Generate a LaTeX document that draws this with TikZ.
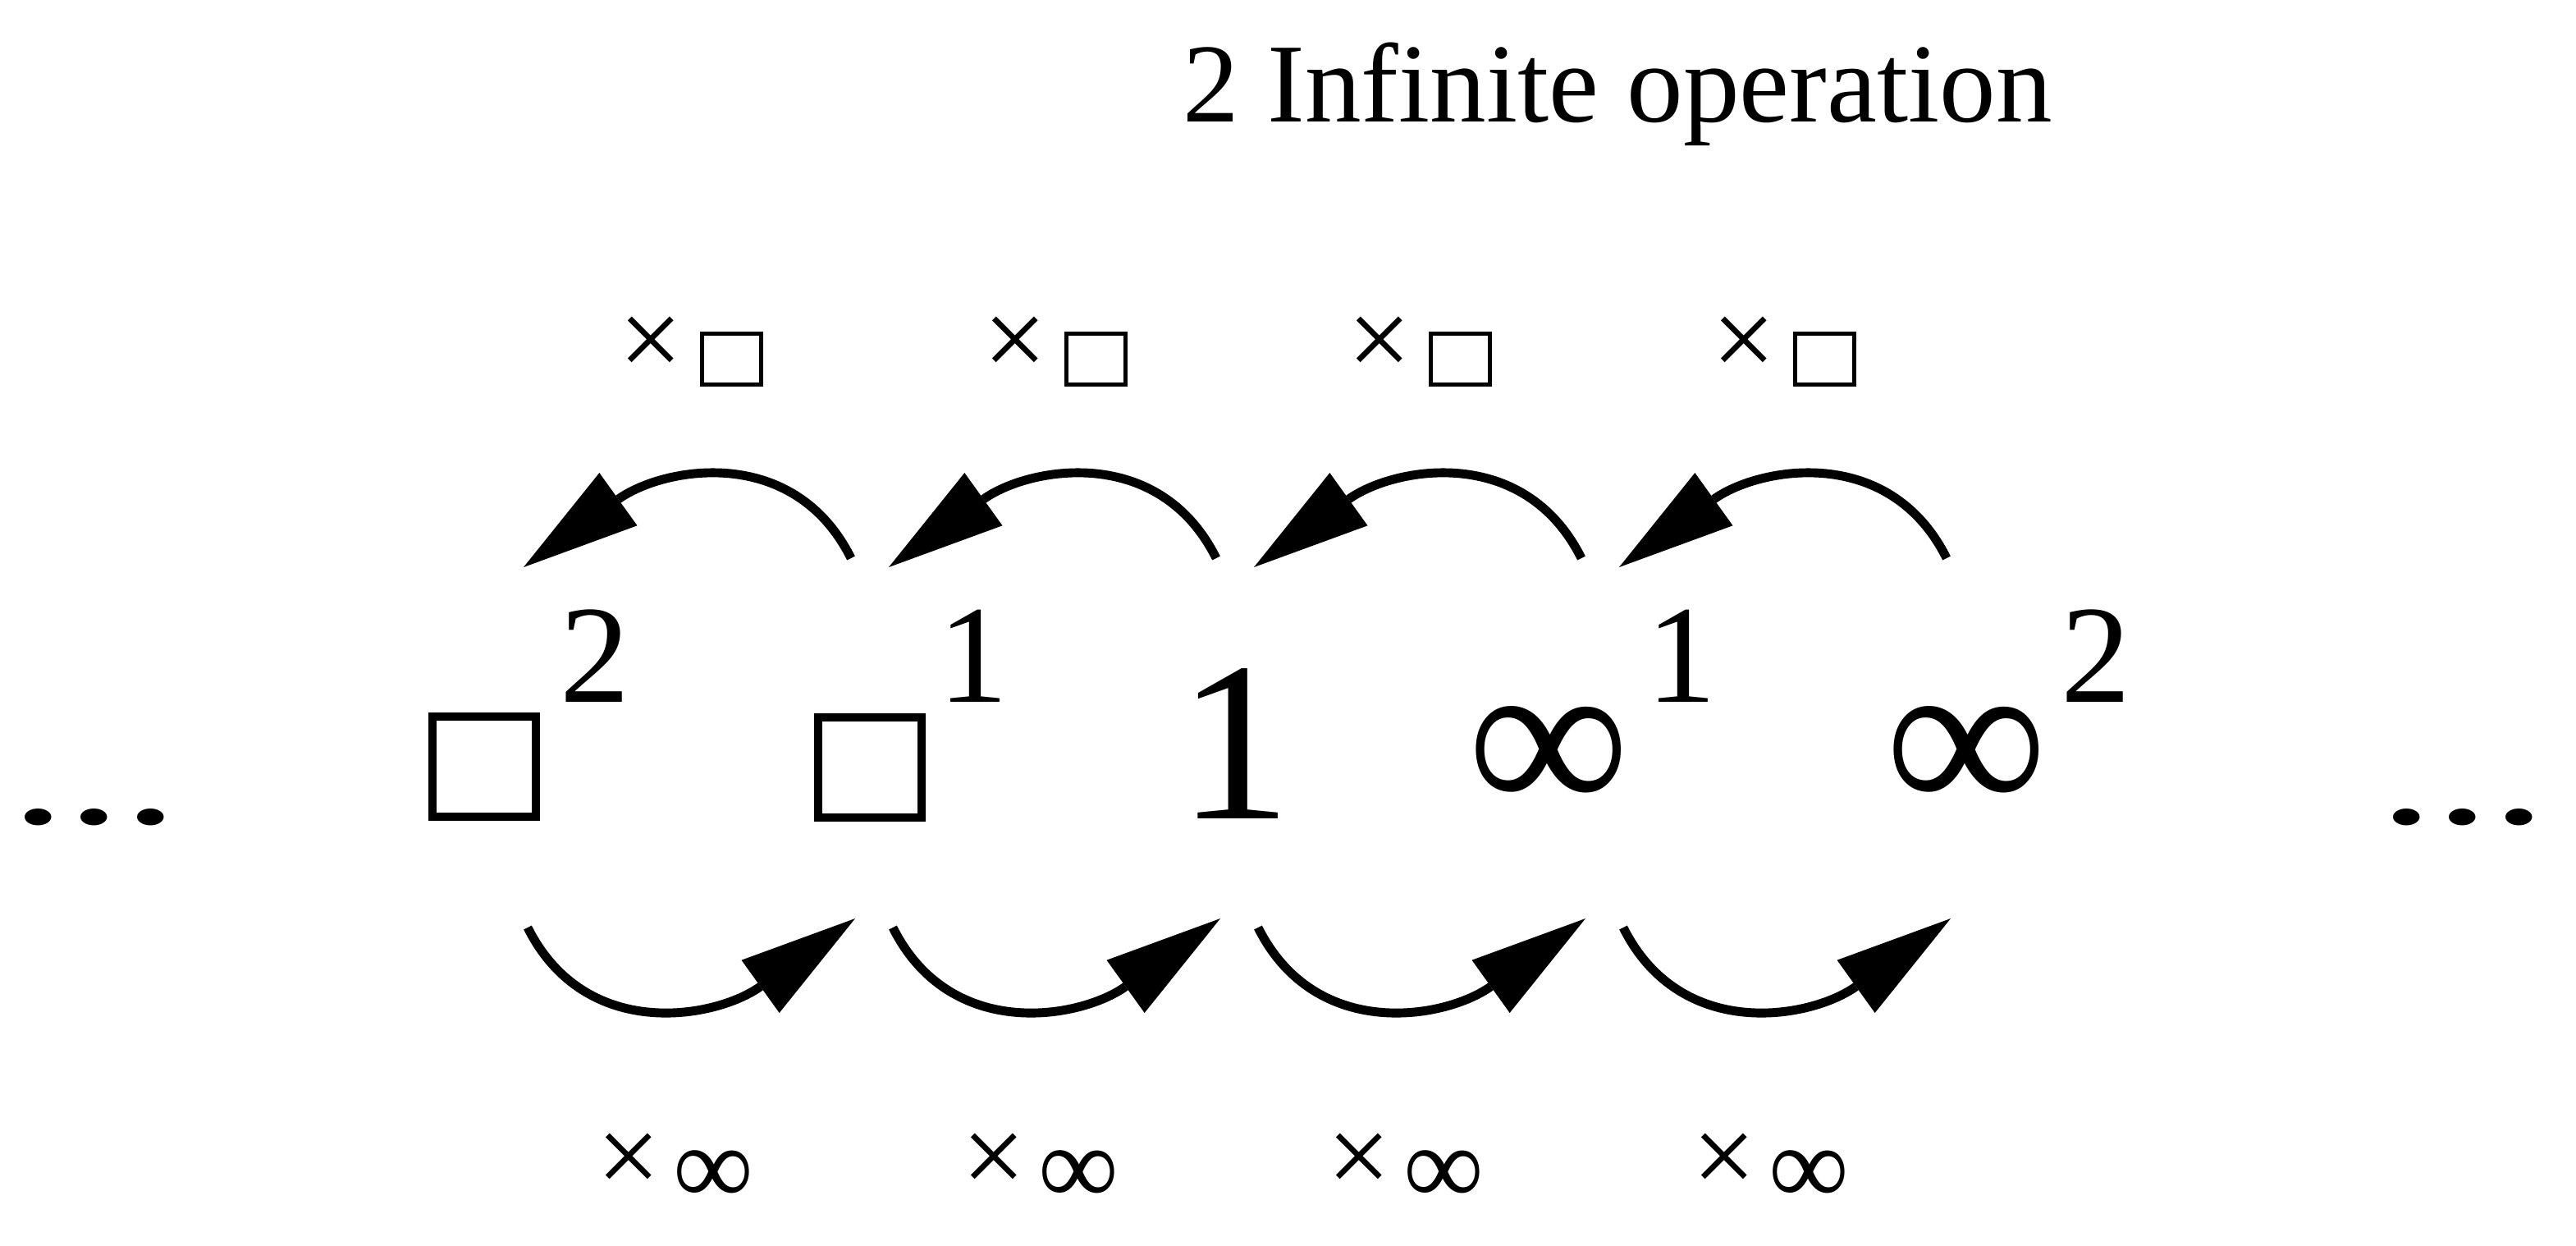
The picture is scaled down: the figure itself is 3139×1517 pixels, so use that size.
\documentclass[tikz,border=0pt]{standalone}
\usepackage{fontspec}
\setmainfont{Liberation Serif}
\usetikzlibrary{arrows.meta}
\begin{document}
\begin{tikzpicture}[x=0.01cm,y=-0.01cm,
  glyph/.style={inner sep=0pt, outer sep=0pt, anchor=center},
  big/.style={glyph, font=\fontsize{78.8}{80}\selectfont},
  sup/.style={glyph, font=\fontsize{48.4}{50}\selectfont},
  lab/.style={glyph, font=\fontsize{39}{40}\selectfont},
  dotsty/.style={glyph, font=\fontsize{82}{82}\selectfont},
  bigsq/.style={draw, line width=2.85pt, minimum width=35.85pt, minimum height=34.71pt, inner sep=0pt},
  smallsq/.style={draw, line width=1.42pt, minimum width=20.5pt, minimum height=17.6pt, inner sep=0pt},
  arc/.style={line width=3.1pt, -{Triangle[length=40.4pt,width=22.5pt,line width=0pt]}},
]
\useasboundingbox (0,0) rectangle (3139,1517);
\node[anchor=base west, inner sep=0pt, font=\fontsize{39}{40}\selectfont] (title) at (1441,148) {2 Infinite operation};

% main row
\node[dotsty] (dotsL) at (115,996) {\scalebox{0.95}[0.6]{...}};
\node[bigsq] (sq2) at (590,934) {};
\node[sup] (sq2e) at (725,799.5) {2};
\node[bigsq] (sq1) at (1060,935) {};
\node[sup] (sq1e) at (1186.5,799.5) {1};
\node[big] (one) at (1504.5,906.5) {1};
\node[big] (inf1) at (1887.5,926.5) {∞};
\node[sup] (inf1e) at (2049.5,799.5) {1};
\node[big] (inf2) at (2396.5,926.5) {∞};
\node[sup] (inf2e) at (2554,799.5) {2};
\node[dotsty] (dotsR) at (3001,996) {\scalebox{0.95}[0.6]{...}};

% labels
\foreach \i in {0,1,2,3} {
  \node[lab] (tx\i) at (793+444*\i,423) {×};
  \node[smallsq] (tq\i) at (891.5+444*\i,437.5) {};
  \node[lab] (bx\i) at (766.5+445*\i,1418) {×};
  \node[lab] (bi\i) at (869.5+445*\i,1435) {∞};
}

% arrows
\foreach \i in {0,1,2,3} {
  \coordinate (ts\i) at (1037+445*\i,680);
  \coordinate (te\i) at (638+445*\i,691);
  \coordinate (bs\i) at (643+445*\i,1130);
  \coordinate (be\i) at (1042+445*\i,1119);
  \draw[arc] (ts\i) .. controls +(-70,-140) and +(170,-122) .. (te\i);
  \draw[arc] (bs\i) .. controls +(70,140) and +(-170,122) .. (be\i);
}
\end{tikzpicture}
\end{document}
